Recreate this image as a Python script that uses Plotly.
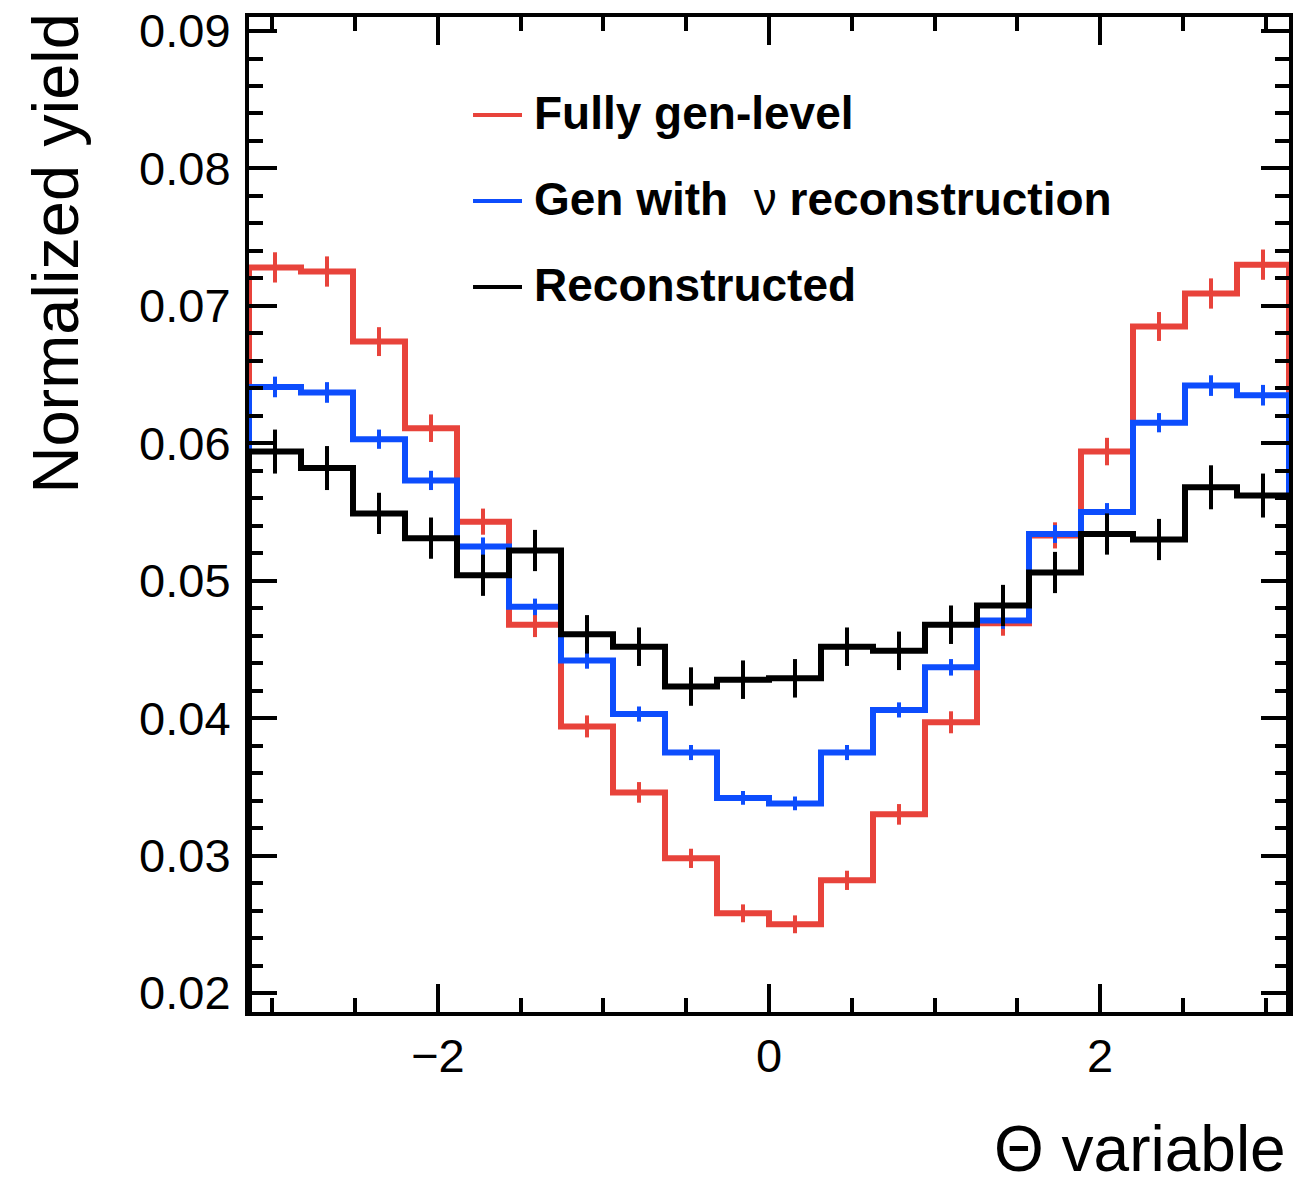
import numpy as np
import plotly.graph_objects as go

# Binning of the Theta variable: 20 uniform bins over [-pi, pi]
n_bins = 20
edges = np.linspace(-np.pi, np.pi, n_bins + 1)
centers = 0.5 * (edges[:-1] + edges[1:])

# Normalized yields per bin
fully_gen = [0.0728, 0.0725, 0.0674, 0.0611, 0.0543, 0.0468, 0.0394, 0.0346, 0.0298, 0.0258,
             0.0250, 0.0282, 0.0330, 0.0397, 0.0469, 0.0533, 0.0594, 0.0685, 0.0709, 0.0730]
fully_gen_err = [0.0011, 0.0011, 0.00105, 0.0010, 0.00095, 0.0009, 0.0008, 0.00075, 0.0007, 0.00065,
                 0.00065, 0.0007, 0.00075, 0.0008, 0.0009, 0.00095, 0.0010, 0.00105, 0.0011, 0.0011]

gen_nu_reco = [0.0641, 0.0637, 0.0603, 0.0573, 0.0525, 0.0481, 0.0442, 0.0403, 0.0375, 0.0342,
               0.0338, 0.0375, 0.0406, 0.0437, 0.0471, 0.0534, 0.0550, 0.0615, 0.0642, 0.0635]
gen_nu_reco_err = [0.00075, 0.00075, 0.0007, 0.0007, 0.00065, 0.0006, 0.0006, 0.00055, 0.00055, 0.0005,
                   0.0005, 0.00055, 0.00055, 0.0006, 0.0006, 0.00065, 0.00065, 0.0007, 0.00075, 0.00075]

reconstructed = [0.0594, 0.0582, 0.0549, 0.0531, 0.0504, 0.0522, 0.0461, 0.0452, 0.0423, 0.0428,
                 0.0429, 0.0452, 0.0449, 0.0468, 0.0482, 0.0506, 0.0534, 0.0530, 0.0568, 0.0562]
reconstructed_err = [0.0016, 0.0016, 0.0015, 0.0015, 0.0015, 0.0015, 0.0014, 0.0014, 0.0014, 0.0014,
                     0.0014, 0.0014, 0.0014, 0.0014, 0.0015, 0.0015, 0.0015, 0.0015, 0.0016, 0.0016]

series = [
    ("Fully gen-level", fully_gen, fully_gen_err, "#e8433b"),
    ("Gen with ν reconstruction", gen_nu_reco, gen_nu_reco_err, "#0d4dfd"),
    ("Reconstructed", reconstructed, reconstructed_err, "#000000"),
]

FONT = "Liberation Sans"
fig = go.Figure()

for name, vals, errs, color in series:
    # histogram outline: rise from zero at the left edge, steps, drop at the right edge
    xs = [edges[0]] + list(edges[:-1]) + [edges[-1], edges[-1]]
    ys = [0.0] + list(vals) + [vals[-1], 0.0]
    fig.add_trace(go.Scatter(
        x=xs, y=ys, mode="lines", line=dict(color=color, width=6, shape="hv"),
        name=name, showlegend=False, hoverinfo="skip",
    ))
    fig.add_trace(go.Scatter(
        x=centers, y=vals, mode="markers",
        marker=dict(size=1, color=color),
        error_y=dict(type="data", array=errs, visible=True, color=color, thickness=4, width=0),
        name=name, showlegend=False,
    ))

axis_common = dict(
    showline=True, linewidth=4, linecolor="black", mirror="allticks",
    ticks="inside", ticklen=28, tickwidth=4, tickcolor="black",
    showgrid=False, zeroline=False, automargin=False,
    tickfont=dict(family=FONT, size=47, color="black"),
)

fig.update_xaxes(
    range=[-np.pi, np.pi], tick0=0, dtick=2,
    tickvals=[-2, 0, 2], ticktext=["\u22122", "0", "2"],
    minor=dict(ticks="inside", ticklen=14, tickwidth=4, tickcolor="black", dtick=0.5, tick0=0),
    **axis_common,
)
fig.update_yaxes(
    range=[0.01862, 0.09102], tick0=0.02, dtick=0.01, tickformat=".2f",
    ticklabelstandoff=5,
    minor=dict(ticks="inside", ticklen=14, tickwidth=4, tickcolor="black", dtick=0.002, tick0=0.02),
    **axis_common,
)

# Legend drawn as line samples plus labels
legend_rows = [
    (0.9015, "#e8433b", "<b>Fully gen-level</b>"),
    (0.8151, "#0d4dfd", "<b>Gen with</b>\u00a0 ν <b>reconstruction</b>"),
    (0.7286, "#000000", "<b>Reconstructed</b>"),
]
shapes = []
annotations = []
for y, color, label in legend_rows:
    shapes.append(dict(type="line", xref="paper", yref="paper", x0=0.2154, x1=0.2625, y0=y, y1=y,
                       line=dict(color=color, width=4)))
    annotations.append(dict(xref="paper", yref="paper", x=0.272, y=y + 0.002, xanchor="left", yanchor="middle",
                            text=label, showarrow=False, font=dict(family=FONT, size=46, color="black")))

annotations.append(dict(xref="paper", yref="paper", x=-0.224, y=1.005, xanchor="left", yanchor="top",
                        text="Normalized yield", textangle=-90, showarrow=False,
                        font=dict(family=FONT, size=65, color="black")))
annotations.append(dict(xref="paper", yref="paper", x=0.998, y=-0.175, xanchor="right", yanchor="bottom",
                        text="Θ variable", showarrow=False, borderpad=0,
                        font=dict(family=FONT, size=64, color="black")))

fig.update_layout(
    width=1315, height=1186,
    margin=dict(l=249, r=26, t=17, b=174),
    paper_bgcolor="white", plot_bgcolor="white",
    shapes=shapes, annotations=annotations,
    showlegend=False,
)

fig.write_html("out.html")
